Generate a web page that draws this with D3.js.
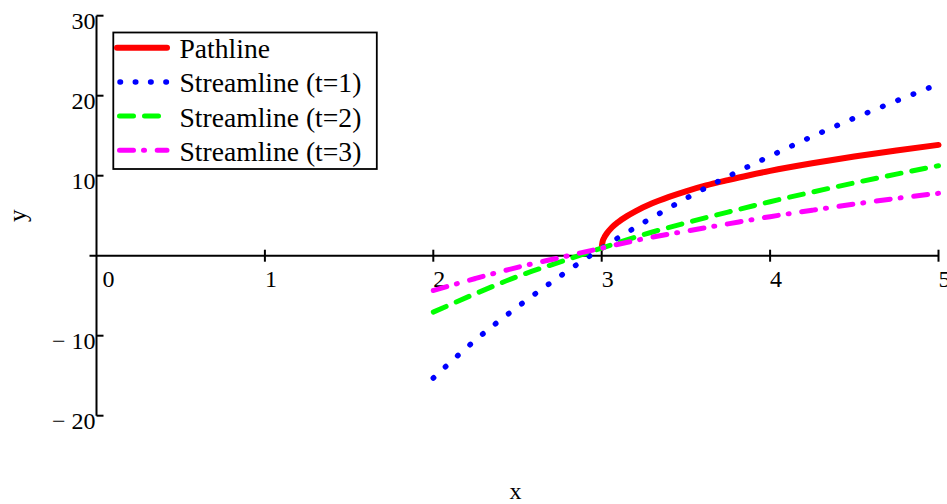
<!DOCTYPE html>
<html>
<head>
<meta charset="utf-8">
<script src="https://cdn.jsdelivr.net/npm/d3@7"></script>
<style>
  html, body { margin: 0; padding: 0; background: #fff; }
  svg { display: block; font-family: "Liberation Serif", "Times New Roman", serif; }
</style>
</head>
<body>
<svg id="chart" width="947" height="504"></svg>
<script>
// ---- data ----
const xTicks = [0, 1, 2, 3, 4, 5];
const yTicks = [30, 20, 10, -10, -20];

const pathX = [3.0, 3.005, 3.015, 3.03, 3.06, 3.1, 3.15, 3.2, 3.3, 3.4, 3.5, 3.62, 3.75, 3.87, 4.0, 4.25, 4.5, 4.75, 5.0];
const pathY = [1.0, 1.72, 2.26, 2.78, 3.52, 4.24, 4.95, 5.55, 6.55, 7.35, 8.05, 8.78, 9.45, 10.03, 10.6, 11.55, 12.4, 13.15, 13.85];

const streamX = [2, 2.25, 2.5, 2.75, 3, 3.25, 3.5, 3.75, 4, 4.25, 4.5, 4.75, 5];
const stream1Y = [-15.3, -10.55, -6.4, -2.6, 0.95, 4.15, 7.15, 9.9, 12.45, 14.9, 17.2, 19.35, 21.45];
const stream2Y = [-7.05, -4.75, -2.6, -0.8, 0.95, 2.65, 4.1, 5.45, 6.75, 7.95, 9.1, 10.2, 11.25];
const stream3Y = [-4.35, -2.85, -1.45, -0.25, 0.95, 2.12, 3.06, 3.98, 4.88, 5.68, 6.45, 7.17, 7.8];

const seriesNames = ["Pathline", "Streamline (t=1)", "Streamline (t=2)", "Streamline (t=3)"];

// ---- layout / style ----
const svg = d3.select("#chart");
const x = d3.scaleLinear().domain([0, 5]).range([96.5, 938.5]);
const y = d3.scaleLinear().domain([-20, 30]).range([415.7, 15.7]);

const styles = [
  { color: "#ff0000", width: 6, dash: null, cap: "round", legendDash: null, legendOffset: 0 },
  { color: "#0000ff", width: 5.5, dash: "0.5 16", cap: "round", legendDash: "0.5 14.8", legendOffset: -3 },
  { color: "#00ff00", width: 5, dash: "14 11", cap: "round", legendDash: "14 11", legendOffset: -2.5 },
  { color: "#ff00ff", width: 5, dash: "14 10 1 12.7", cap: "round", legendDash: "14 10 1 12.7", legendOffset: -2.5 }
];

const series = [
  pathX.map((v, i) => [v, pathY[i]]),
  streamX.map((v, i) => [v, stream1Y[i]]),
  streamX.map((v, i) => [v, stream2Y[i]]),
  streamX.map((v, i) => [v, stream3Y[i]])
];

// ---- x axis ----
const xAxisG = svg.append("g").attr("transform", `translate(0,${y(0)})`);
xAxisG.append("line")
  .attr("x1", x.range()[0] - 7).attr("x2", x.range()[1])
  .attr("y1", 0).attr("y2", 0)
  .attr("stroke", "#000").attr("stroke-width", 2);
xAxisG.selectAll("line.tick").data(xTicks.filter(d => d !== 0)).join("line")
  .attr("class", "tick")
  .attr("x1", d => x(d)).attr("x2", d => x(d))
  .attr("y1", -6).attr("y2", 6)
  .attr("stroke", "#000").attr("stroke-width", 2);
xAxisG.selectAll("text").data(xTicks).join("text")
  .attr("x", d => x(d) + (d === 0 ? 6 : 0))
  .attr("y", 31)
  .attr("font-size", 24)
  .attr("text-anchor", "start")
  .text(d => String(d));

// ---- y axis ----
const yAxisG = svg.append("g").attr("transform", `translate(${x(0)},0)`);
yAxisG.append("line")
  .attr("x1", 0).attr("x2", 0)
  .attr("y1", y(30)).attr("y2", y(-20))
  .attr("stroke", "#000").attr("stroke-width", 2);
yAxisG.selectAll("line.tick").data(yTicks).join("line")
  .attr("class", "tick")
  .attr("x1", 0).attr("x2", 7)
  .attr("y1", d => y(d)).attr("y2", d => y(d))
  .attr("stroke", "#000").attr("stroke-width", 2);
yAxisG.selectAll("text").data(yTicks).join("text")
  .attr("x", -1)
  .attr("y", d => y(d) + 13)
  .attr("font-size", 24)
  .attr("text-anchor", "end")
  .text(d => d < 0 ? "\u2212 " + Math.abs(d) : String(d));

// ---- axis titles ----
svg.append("text")
  .attr("x", (x.range()[0] + x.range()[1]) / 2 - 2)
  .attr("y", 499)
  .attr("font-size", 24)
  .attr("text-anchor", "middle")
  .text("x");
svg.append("text")
  .attr("transform", `translate(26,${(y.range()[0] + y.range()[1]) / 2})rotate(-90)`)
  .attr("font-size", 25)
  .attr("text-anchor", "middle")
  .text("y");

// ---- curves ----
const line = d3.line()
  .x(d => x(d[0]))
  .y(d => y(d[1]))
  .curve(d3.curveMonotoneX);

series.forEach((s, i) => {
  const st = styles[i];
  svg.append("path")
    .datum(s)
    .attr("d", line)
    .attr("fill", "none")
    .attr("stroke", st.color)
    .attr("stroke-width", st.width)
    .attr("stroke-linecap", st.cap)
    .attr("stroke-linejoin", "round")
    .attr("stroke-dasharray", st.dash);
});

// ---- legend ----
const lg = svg.append("g");
lg.append("rect")
  .attr("x", 113.3).attr("y", 32.5)
  .attr("width", 263.5).attr("height", 136.5)
  .attr("fill", "#fff")
  .attr("stroke", "#000").attr("stroke-width", 1.8);
const rowY = [47.7, 81.9, 116.1, 150.3];
seriesNames.forEach((name, i) => {
  const st = styles[i];
  lg.append("line")
    .attr("x1", 117).attr("x2", 167)
    .attr("y1", rowY[i]).attr("y2", rowY[i])
    .attr("stroke", st.color)
    .attr("stroke-width", st.width)
    .attr("stroke-linecap", "round")
    .attr("stroke-dasharray", st.legendDash)
    .attr("stroke-dashoffset", st.legendOffset);
  lg.append("text")
    .attr("x", 179.5)
    .attr("y", rowY[i] + 10.4)
    .attr("font-size", 27.6)
    .text(name);
});
</script>
</body>
</html>
